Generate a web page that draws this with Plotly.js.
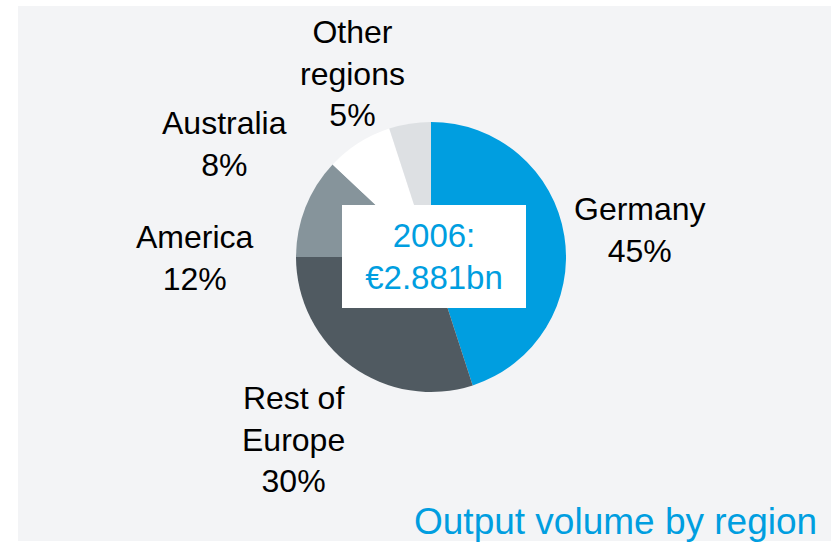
<!DOCTYPE html>
<html>
<head>
<meta charset="utf-8">
<script src="https://cdn.plot.ly/plotly-3.0.1.min.js"></script>
<style>html,body{margin:0;padding:0;background:#fff;}#chart{width:833px;height:543px;}</style>
</head>
<body>
<div id="chart"></div>
<script>
// Data
var regions = ["Germany", "Rest of<br>Europe", "America", "Australia", "Other<br>regions"];
var shares = [45, 30, 12, 8, 5];
var sliceColors = ["#009ee0", "#505a61", "#86949b", "#ffffff", "#dde0e3"];
var centerYear = "2006:";
var centerTotal = "€2.881bn";
var chartTitle = "Output volume by region";

var W = 833, H = 543;
function px(x) { return x / W; }
function py(y) { return 1 - y / H; }

// label anchor positions (pixels) for each region, same order
var labelPos = [[640, 230], [293, 439], [195, 258], [224, 144], [352, 73]];

var font = "Liberation Sans, Arial, sans-serif";
var annotations = regions.map(function (r, i) {
  return {
    xref: "paper", yref: "paper",
    x: px(labelPos[i][0]), y: py(labelPos[i][1]),
    xanchor: "center", yanchor: "middle",
    text: r + "<br>" + shares[i] + "%",
    showarrow: false,
    font: {family: font, size: 32, color: "#000000"}
  };
});
annotations.push({
  xref: "paper", yref: "paper",
  x: px(434), y: py(256.5), xanchor: "center", yanchor: "middle",
  text: centerYear + "<br>" + centerTotal,
  showarrow: false, bgcolor: "#ffffff", width: 184, height: 103,
  borderpad: 0, borderwidth: 0,
  font: {family: font, size: 33, color: "#009ee0"}
});
annotations.push({
  xref: "paper", yref: "paper",
  x: px(819), y: py(521), xanchor: "right", yanchor: "middle",
  text: chartTitle, showarrow: false,
  font: {family: font, size: 37, color: "#009ee0"}
});

var cx = 431, cy = 257, r = 135;
var trace = {
  type: "pie",
  values: shares,
  labels: regions,
  sort: false,
  direction: "clockwise",
  rotation: 0,
  textinfo: "none",
  hoverinfo: "none",
  marker: {colors: sliceColors, line: {width: 0}},
  domain: {x: [px(cx - r), px(cx + r)], y: [py(cy + r), py(cy - r)]},
  showlegend: false
};

var layout = {
  width: W, height: H,
  margin: {l: 0, r: 0, t: 0, b: 0},
  paper_bgcolor: "#ffffff",
  showlegend: false,
  shapes: [{
    type: "rect", xref: "paper", yref: "paper", layer: "below",
    x0: px(18), x1: px(831), y0: py(541), y1: py(6),
    fillcolor: "#f3f4f6", line: {width: 0}
  }],
  annotations: annotations
};

Plotly.newPlot("chart", [trace], layout, {displayModeBar: false, staticPlot: true});
</script>
</body>
</html>
